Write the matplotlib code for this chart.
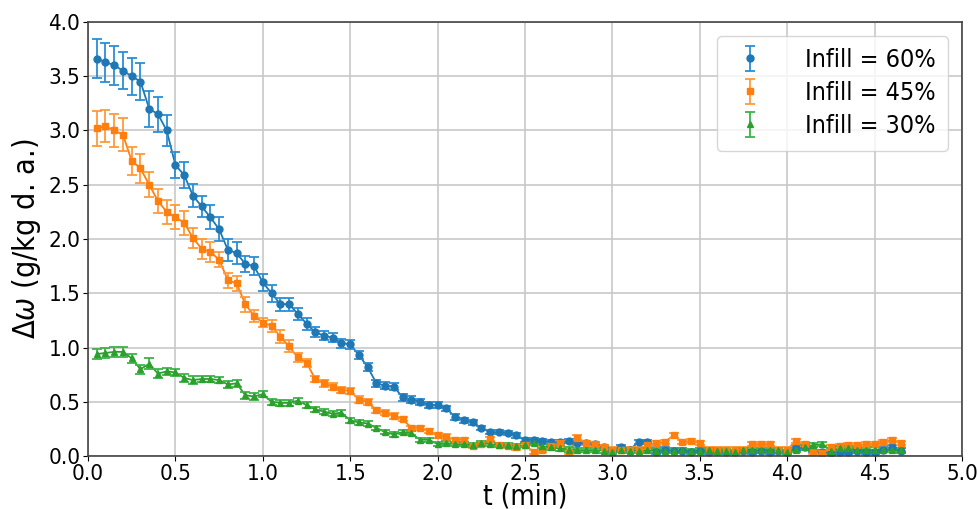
import matplotlib
matplotlib.use("Agg")
import matplotlib.pyplot as plt

t_min = [0.05, 0.10, 0.15, 0.20, 0.25, 0.30, 0.35, 0.40, 0.45, 0.50,
         0.55, 0.60, 0.65, 0.70, 0.75, 0.80, 0.85, 0.90, 0.95, 1.00,
         1.05, 1.10, 1.15, 1.20, 1.25, 1.30, 1.35, 1.40, 1.45, 1.50,
         1.55, 1.60, 1.65, 1.70, 1.75, 1.80, 1.85, 1.90, 1.95, 2.00,
         2.05, 2.10, 2.15, 2.20, 2.25, 2.30, 2.35, 2.40, 2.45, 2.50,
         2.55, 2.60, 2.65, 2.70, 2.75, 2.80, 2.85, 2.90, 2.95, 3.00,
         3.05, 3.10, 3.15, 3.20, 3.25, 3.30, 3.35, 3.40, 3.45, 3.50,
         3.55, 3.60, 3.65, 3.70, 3.75, 3.80, 3.85, 3.90, 3.95, 4.00,
         4.05, 4.10, 4.15, 4.20, 4.25, 4.30, 4.35, 4.40, 4.45, 4.50,
         4.55, 4.60, 4.65]

infill_60 = [3.66, 3.63, 3.60, 3.55, 3.50, 3.45, 3.20, 3.15, 3.00, 2.68,
             2.59, 2.40, 2.30, 2.20, 2.09, 1.90, 1.87, 1.77, 1.75, 1.60,
             1.50, 1.40, 1.40, 1.31, 1.22, 1.14, 1.11, 1.09, 1.04, 1.03,
             0.93, 0.82, 0.67, 0.65, 0.64, 0.54, 0.52, 0.50, 0.47, 0.47,
             0.44, 0.36, 0.33, 0.31, 0.26, 0.22, 0.22, 0.21, 0.19, 0.15,
             0.15, 0.14, 0.13, 0.13, 0.14, 0.12, 0.12, 0.11, 0.08, 0.05,
             0.08, 0.06, 0.13, 0.13, 0.04, 0.06, 0.05, 0.05, 0.04, 0.05,
             0.04, 0.05, 0.04, 0.04, 0.05, 0.04, 0.05, 0.04, 0.05, 0.04,
             0.07, 0.08, 0.06, 0.04, 0.03, 0.04, 0.04, 0.05, 0.04, 0.04,
             0.06, 0.08, 0.05]
err_60 = [0.18, 0.18, 0.18, 0.17, 0.17, 0.17, 0.165, 0.16, 0.14, 0.12,
          0.12, 0.11, 0.10, 0.11, 0.11, 0.10, 0.10, 0.07, 0.08, 0.08,
          0.08, 0.06, 0.06, 0.055, 0.055, 0.045, 0.04, 0.04, 0.04, 0.04,
          0.035, 0.035, 0.03, 0.03, 0.03, 0.03, 0.03, 0.03, 0.03, 0.03,
          0.025, 0.025, 0.025, 0.025, 0.02, 0.02, 0.02, 0.02, 0.02, 0.02,
          0.02, 0.02, 0.02, 0.02, 0.02, 0.02, 0.02, 0.02, 0.02, 0.02,
          0.02, 0.02, 0.02, 0.02, 0.02, 0.02, 0.02, 0.02, 0.02, 0.02,
          0.02, 0.02, 0.02, 0.02, 0.02, 0.02, 0.02, 0.02, 0.02, 0.02,
          0.02, 0.02, 0.02, 0.02, 0.02, 0.02, 0.02, 0.02, 0.02, 0.02,
          0.02, 0.02, 0.02]

infill_45 = [3.02, 3.04, 3.00, 2.96, 2.72, 2.65, 2.50, 2.35, 2.25, 2.20,
             2.15, 2.01, 1.91, 1.88, 1.81, 1.62, 1.59, 1.40, 1.29, 1.23,
             1.20, 1.10, 1.01, 0.91, 0.86, 0.71, 0.67, 0.64, 0.61, 0.60,
             0.52, 0.50, 0.42, 0.40, 0.37, 0.34, 0.26, 0.26, 0.23, 0.19,
             0.18, 0.15, 0.15, 0.09, 0.11, 0.16, 0.10, 0.09, 0.08, 0.10,
             0.04, 0.06, 0.09, 0.12, 0.04, 0.17, 0.12, 0.11, 0.08, 0.06,
             0.06, 0.06, 0.06, 0.10, 0.12, 0.13, 0.19, 0.13, 0.14, 0.12,
             0.06, 0.06, 0.06, 0.06, 0.06, 0.11, 0.11, 0.11, 0.06, 0.06,
             0.14, 0.11, 0.04, 0.03, 0.08, 0.09, 0.10, 0.10, 0.11, 0.11,
             0.13, 0.15, 0.12]
err_45 = [0.16, 0.15, 0.15, 0.15, 0.13, 0.135, 0.115, 0.11, 0.11, 0.11,
          0.11, 0.09, 0.09, 0.09, 0.07, 0.07, 0.07, 0.07, 0.055, 0.045,
          0.055, 0.06, 0.055, 0.04, 0.035, 0.03, 0.03, 0.03, 0.03, 0.03,
          0.03, 0.025, 0.025, 0.025, 0.025, 0.02, 0.02, 0.02, 0.02, 0.02,
          0.02, 0.02, 0.02, 0.02, 0.02, 0.02, 0.02, 0.02, 0.02, 0.02,
          0.02, 0.02, 0.02, 0.02, 0.02, 0.02, 0.02, 0.02, 0.02, 0.02,
          0.02, 0.02, 0.02, 0.02, 0.02, 0.02, 0.02, 0.02, 0.02, 0.02,
          0.02, 0.02, 0.02, 0.02, 0.02, 0.02, 0.02, 0.02, 0.02, 0.02,
          0.02, 0.02, 0.02, 0.02, 0.02, 0.02, 0.02, 0.02, 0.02, 0.02,
          0.02, 0.02, 0.02]

infill_30 = [0.94, 0.95, 0.96, 0.96, 0.90, 0.80, 0.85, 0.76, 0.78, 0.77,
             0.72, 0.70, 0.71, 0.71, 0.70, 0.66, 0.67, 0.56, 0.55, 0.57,
             0.50, 0.49, 0.49, 0.51, 0.47, 0.43, 0.41, 0.39, 0.40, 0.33,
             0.31, 0.30, 0.26, 0.22, 0.20, 0.22, 0.21, 0.15, 0.15, 0.11,
             0.12, 0.11, 0.11, 0.10, 0.12, 0.11, 0.10, 0.10, 0.09, 0.10,
             0.12, 0.09, 0.08, 0.07, 0.06, 0.055, 0.055, 0.055, 0.05, 0.04,
             0.055, 0.05, 0.05, 0.055, 0.05, 0.05, 0.05, 0.055, 0.046, 0.046,
             0.055, 0.05, 0.046, 0.04, 0.055, 0.055, 0.055, 0.055, 0.055, 0.04,
             0.055, 0.086, 0.10, 0.11, 0.05, 0.07, 0.07, 0.06, 0.055, 0.06,
             0.055, 0.055, 0.055]
err_30 = [0.05, 0.045, 0.045, 0.045, 0.04, 0.04, 0.05, 0.04, 0.035, 0.035,
          0.035, 0.035, 0.03, 0.03, 0.03, 0.03, 0.03, 0.03, 0.03, 0.03,
          0.025, 0.025, 0.025, 0.025, 0.025, 0.025, 0.025, 0.025, 0.025, 0.025,
          0.02, 0.02, 0.02, 0.02, 0.02, 0.02, 0.02, 0.02, 0.02, 0.02,
          0.02, 0.02, 0.02, 0.02, 0.02, 0.02, 0.02, 0.02, 0.02, 0.02,
          0.02, 0.02, 0.02, 0.02, 0.02, 0.02, 0.02, 0.02, 0.02, 0.02,
          0.02, 0.02, 0.02, 0.02, 0.02, 0.02, 0.02, 0.02, 0.02, 0.02,
          0.02, 0.02, 0.02, 0.02, 0.02, 0.02, 0.02, 0.02, 0.02, 0.02,
          0.02, 0.02, 0.02, 0.02, 0.02, 0.02, 0.02, 0.02, 0.02, 0.02,
          0.02, 0.02, 0.02]

labels = ["Infill = 60%", "Infill = 45%", "Infill = 30%"]
xticks = [0.0, 0.5, 1.0, 1.5, 2.0, 2.5, 3.0, 3.5, 4.0, 4.5, 5.0]
yticks = [0.0, 0.5, 1.0, 1.5, 2.0, 2.5, 3.0, 3.5, 4.0]

plt.rcParams['font.family'] = ['DejaVu Sans']
plt.rcParams['font.stretch'] = 'condensed'

fig = plt.figure(figsize=(9.79, 5.09), dpi=100)
ax = fig.add_axes([0.0899, 0.104, 0.8927, 0.853])

series = [(infill_60, err_60, 'o', '#1f77b4', '#2b8fd6', 5.0),
          (infill_45, err_45, 's', '#ff7f0e', '#ff9a3a', 4.6),
          (infill_30, err_30, '^', '#2ca02c', '#3cb44a', 5.0)]
for (vals, errs, mk, c, ec, ms), lab in zip(series, labels):
    ax.plot(t_min, vals, '-', color=c, linewidth=1.3)
    ax.errorbar(t_min, vals, yerr=errs, fmt=mk, linestyle='none', color=c,
                ecolor=ec, elinewidth=1.3, capsize=3.4, capthick=1.3,
                markersize=ms, label=lab)

ax.set_xlim(0, 5)
ax.set_ylim(0, 4)
ax.set_xticks(xticks)
ax.set_yticks(yticks)
ax.set_xticklabels([f"{v:.1f}" for v in xticks])
ax.set_yticklabels([f"{v:.1f}" for v in yticks])
ax.tick_params(labelsize=16, pad=2)
ax.grid(True, color='#c8c8c8', linewidth=1.2)
ax.set_axisbelow(True)
for s in ax.spines.values():
    s.set_color('#444444')
    s.set_linewidth(1.2)

ax.set_xlabel("t (min)", fontsize=20, labelpad=-1)
ax.set_ylabel(r"$\Delta\omega$ (g/kg d. a.)", fontsize=22, labelpad=4)

ax.legend(loc='upper right', fontsize=18, handlelength=1.6, borderpad=0.5,
          labelspacing=0.36, handletextpad=1.4, borderaxespad=0.55)

fig.savefig("out.png", dpi=100)
